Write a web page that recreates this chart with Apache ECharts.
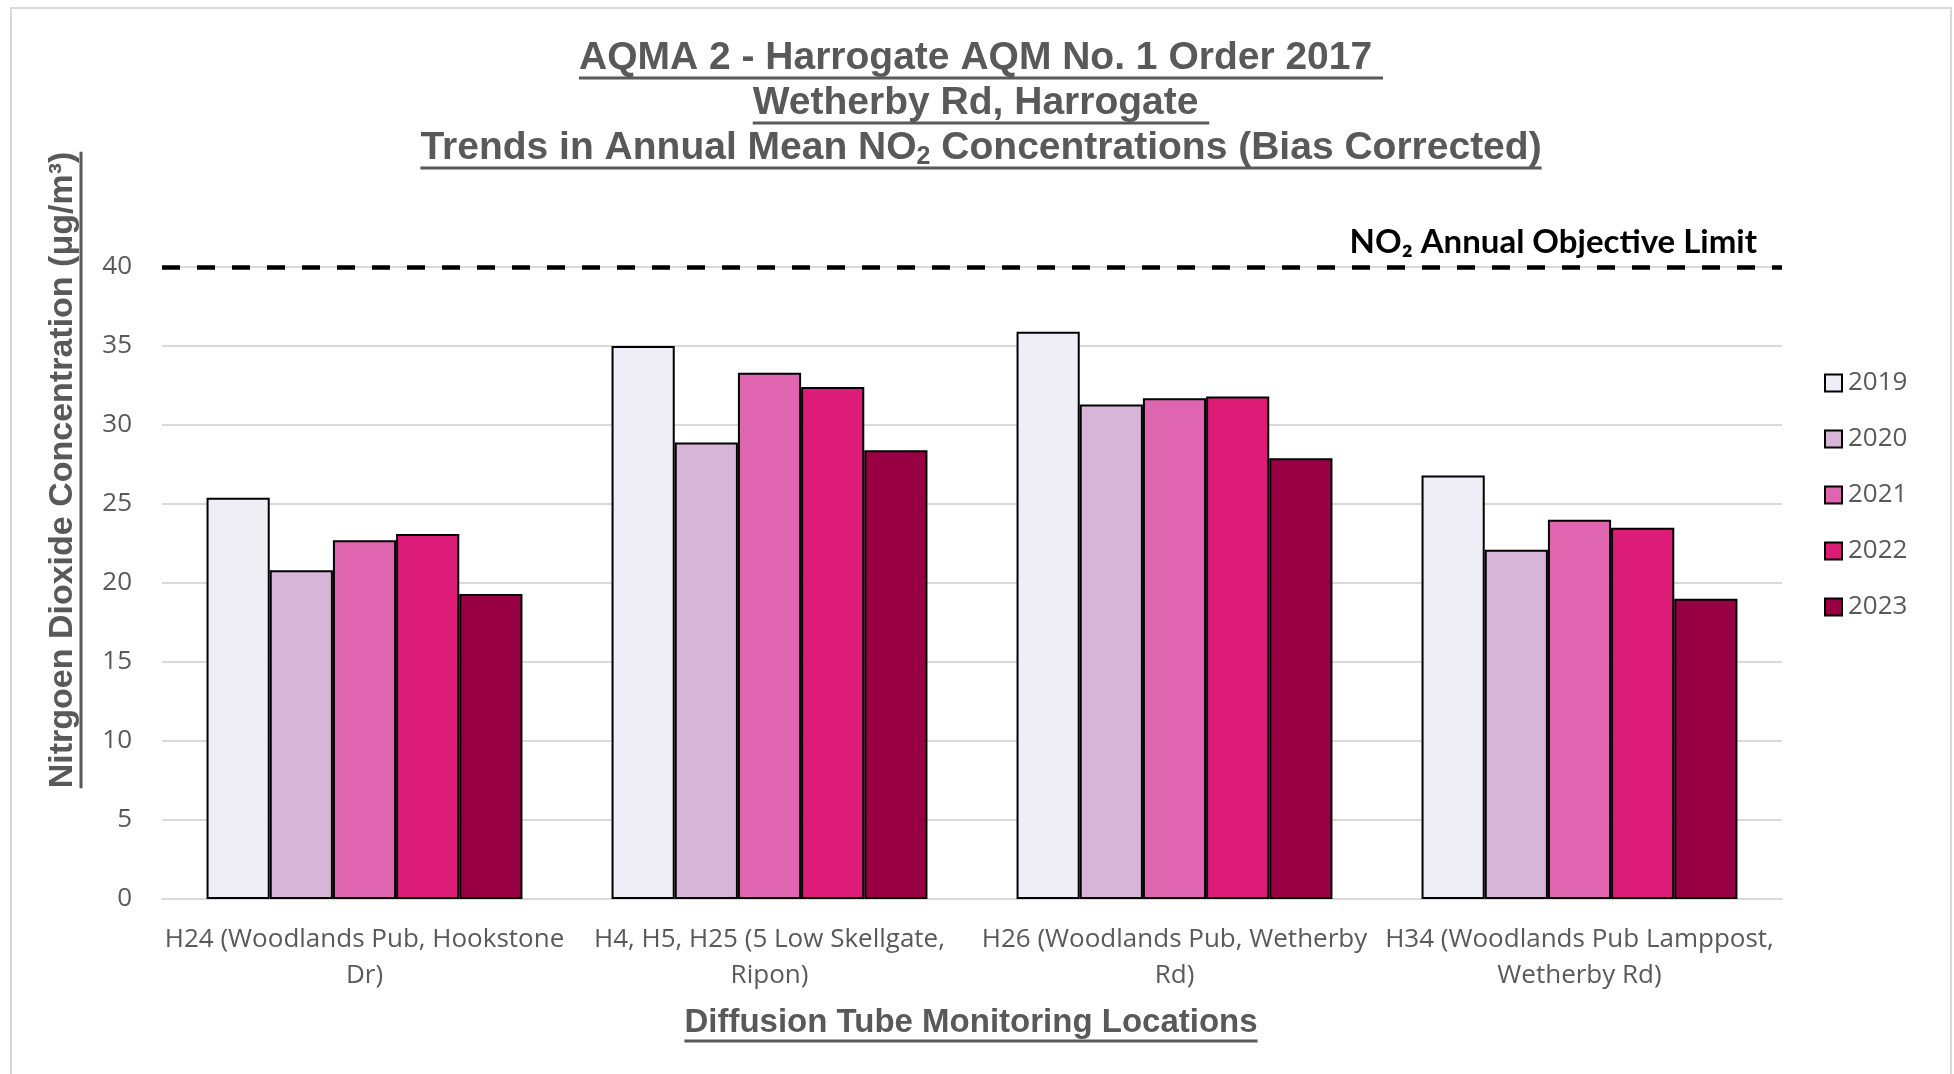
<!DOCTYPE html>
<html>
<head>
<meta charset="utf-8">
<title>AQMA 2 - NO2 trends</title>
<script src="https://cdn.jsdelivr.net/npm/echarts@6/dist/echarts.min.js"></script>
<style>
  html, body { margin: 0; padding: 0; background: #ffffff; }
  #chart { width: 1954px; height: 1074px; }
</style>
</head>
<body>
<div id="chart"></div>
<script>
// Monitoring locations (x-axis categories, wrapped as they appear on the axis)
const categories = [
  'H24 (Woodlands Pub, Hookstone\nDr)',
  'H4, H5, H25 (5 Low Skellgate,\nRipon)',
  'H26 (Woodlands Pub, Wetherby\nRd)',
  'H34 (Woodlands Pub Lamppost,\nWetherby Rd)'
];

// Survey years (one series each)
const years = ['2019', '2020', '2021', '2022', '2023'];

// Annual mean NO2, bias corrected (µg/m³), one value per location
const values2019 = [25.4, 35.0, 35.9, 26.8];
const values2020 = [20.8, 28.9, 31.3, 22.1];
const values2021 = [22.7, 33.3, 31.7, 24.0];
const values2022 = [23.1, 32.4, 31.8, 23.5];
const values2023 = [19.3, 28.4, 27.9, 19.0];

// Annual objective limit and y-axis ticks
const objectiveLimit = 40;
const objectiveLabel = 'NO₂ Annual Objective Limit';
const yTickMin = 0;
const yTickMax = 40;
const yTickStep = 5;

const seriesValues = [values2019, values2020, values2021, values2022, values2023];
const barColors = ['#efedf5', '#d7b5d8', '#df65b0', '#dd1c77', '#980043'];

const GREY = '#595959';
const TITLE_FAMILY = '"Liberation Sans", Arial, sans-serif';
const BODY_FAMILY = '"Open Sans", "Noto Sans", sans-serif';

// Text measurement for the underlined headings
const measureCtx = document.createElement('canvas').getContext('2d');
function textWidth(text, size, weight, family) {
  measureCtx.font = weight + ' ' + size + 'px ' + family;
  return measureCtx.measureText(text).width;
}

function underlinedText(text, cx, cy, size, underlineOffset) {
  const w = textWidth(text, size, 'bold', TITLE_FAMILY);
  return [
    { type: 'text', x: cx, y: cy, style: {
        text: text, fill: GREY, fontSize: size, fontWeight: 'bold',
        fontFamily: TITLE_FAMILY, align: 'center', verticalAlign: 'middle' } },
    { type: 'line', shape: { x1: cx - w / 2, y1: cy + underlineOffset, x2: cx + w / 2, y2: cy + underlineOffset },
      style: { stroke: GREY, lineWidth: 3 } }
  ];
}

const titleSize = 39;
const subSize = 25;
const cx = 981;

// Third heading line with a subscript "2"
const t3a = 'Trends in Annual Mean NO';
const t3s = '2';
const t3b = ' Concentrations (Bias Corrected)';
const t3w = textWidth(t3a, titleSize, 'bold', TITLE_FAMILY) +
            textWidth(t3s, subSize, 'bold', TITLE_FAMILY) +
            textWidth(t3b, titleSize, 'bold', TITLE_FAMILY);

const yTitle = 'Nitrgoen Dioxide Concentration (μg/m³)';
const yTitleSize = 34;
const yTitleW = textWidth(yTitle, yTitleSize, 'bold', TITLE_FAMILY);

const graphics = [
  // outer frame
  { type: 'rect', shape: { x: 11, y: 8, width: 1940, height: 1100 },
    style: { fill: 'none', stroke: '#d9d9d9', lineWidth: 2 }, silent: true },
  ...underlinedText('AQMA 2 - Harrogate AQM No. 1 Order 2017 ', cx, 58, titleSize, 20),
  ...underlinedText('Wetherby Rd, Harrogate ', cx, 103, titleSize, 20),
  { type: 'text', x: cx, y: 148, style: {
      text: '{a|' + t3a + '}{s|' + t3s + '}{a|' + t3b + '}',
      align: 'center', verticalAlign: 'middle',
      rich: {
        a: { fill: GREY, fontSize: titleSize, fontWeight: 'bold', fontFamily: TITLE_FAMILY, lineHeight: 44, verticalAlign: 'middle' },
        s: { fill: GREY, fontSize: subSize, fontWeight: 'bold', fontFamily: TITLE_FAMILY, lineHeight: 25, verticalAlign: 'bottom' }
      } } },
  { type: 'line', shape: { x1: cx - t3w / 2, y1: 168, x2: cx + t3w / 2, y2: 168 },
    style: { stroke: GREY, lineWidth: 3 } },
  // y-axis title, rotated
  { type: 'group', x: 63, y: 470, rotation: Math.PI / 2, children: [
      { type: 'text', x: 0, y: 0, style: {
          text: yTitle, fill: GREY, fontSize: yTitleSize, fontWeight: 'bold',
          fontFamily: TITLE_FAMILY, align: 'center', verticalAlign: 'middle' } },
      { type: 'line', shape: { x1: -yTitleW / 2, y1: 18, x2: yTitleW / 2, y2: 18 },
        style: { stroke: GREY, lineWidth: 3 } }
  ] },
  // x-axis title
  ...underlinedText('Diffusion Tube Monitoring Locations', 971, 1023, 33, 18)
];

const series = years.map((year, i) => {
  const s = {
    name: year,
    type: 'bar',
    data: seriesValues[i],
    barGap: '0%',
    barCategoryGap: '22%',
    itemStyle: { color: barColors[i], borderColor: '#000000', borderWidth: 2 }
  };
  if (i === 0) {
    s.markLine = {
      silent: true,
      symbol: 'none',
      data: [{ yAxis: objectiveLimit, name: objectiveLabel }],
      lineStyle: { color: '#000000', width: 4.5, type: [18, 17] },
      label: {
        show: true,
        position: 'insideEndTop',
        formatter: '{b}',
        color: '#000000',
        fontSize: 33,
        fontWeight: 'bold',
        fontFamily: '"Lato", "Noto Sans", sans-serif',
        distance: [25, 8]
      }
    };
  }
  return s;
});

const chart = echarts.init(document.getElementById('chart'), null, { renderer: 'canvas' });
chart.setOption({
  backgroundColor: '#ffffff',
  animation: false,
  grid: { left: 162, right: 172, top: 267, bottom: 175, containLabel: false },
  legend: {
    orient: 'vertical',
    left: 1819,
    top: 365,
    itemWidth: 17,
    itemHeight: 17,
    itemGap: 30,
    icon: 'rect',
    data: years,
    itemStyle: { borderColor: '#000000', borderWidth: 2 },
    textStyle: { color: GREY, fontSize: 26, fontFamily: BODY_FAMILY, lineHeight: 26, padding: [0, 0, 0, 1] }
  },
  xAxis: {
    type: 'category',
    data: categories,
    axisLine: { show: true, lineStyle: { color: '#d9d9d9', width: 2 } },
    axisTick: { show: false },
    axisLabel: { color: GREY, fontSize: 26, fontFamily: BODY_FAMILY, lineHeight: 36, margin: 23, interval: 0 },
    splitLine: { show: false }
  },
  yAxis: {
    type: 'value',
    min: yTickMin,
    max: yTickMax,
    interval: yTickStep,
    axisLine: { show: false },
    axisTick: { show: false },
    axisLabel: { color: GREY, fontSize: 26, fontFamily: BODY_FAMILY, margin: 30 },
    splitLine: { lineStyle: { color: '#d9d9d9', width: 2 } }
  },
  series: series,
  graphic: graphics
});
</script>
</body>
</html>
